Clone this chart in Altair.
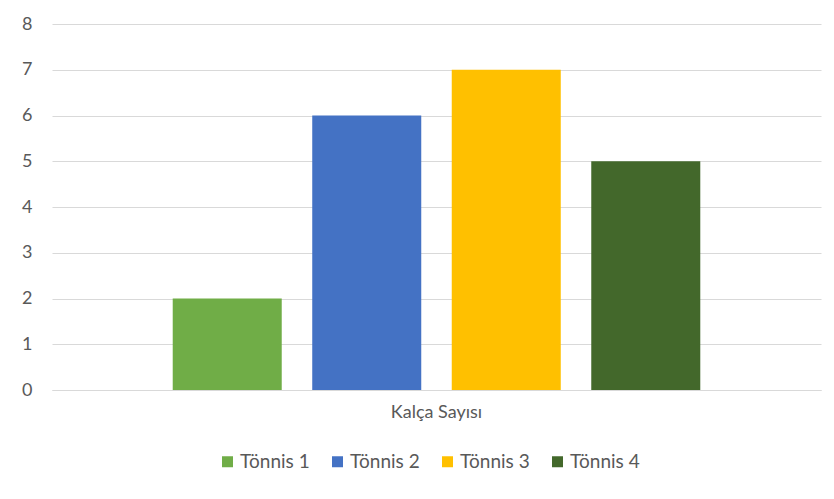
import altair as alt
import pandas as pd

category = ["Kalça Sayısı"]
series = ["Tönnis 1", "Tönnis 2", "Tönnis 3", "Tönnis 4"]
values = [2, 6, 7, 5]
colors = ["#70AD47", "#4472C4", "#FFC000", "#43682B"]
y_ticks = [0, 1, 2, 3, 4, 5, 6, 7, 8]

df = pd.DataFrame({
    "category": category * len(series),
    "series": series,
    "value": values,
})

FONT = "Lato"
TXT = "#595959"
GRID = "#D9D9D9"

chart = alt.Chart(df).mark_bar().encode(
    x=alt.X(
        "category:N",
        title=None,
        scale=alt.Scale(paddingInner=0, paddingOuter=0.189),
        axis=alt.Axis(labelAngle=0, ticks=False, domainColor=GRID, labelPadding=13,
                      labelFontSize=18, labelColor=TXT, labelFont=FONT),
    ),
    xOffset=alt.XOffset(
        "series:N", sort=series,
        scale=alt.Scale(paddingInner=0.2186, paddingOuter=0.1093),
    ),
    y=alt.Y(
        "value:Q",
        title=None,
        scale=alt.Scale(domain=[0, 8], nice=False),
        axis=alt.Axis(values=y_ticks, ticks=False, domain=False, gridColor=GRID,
                      labelPadding=20, labelFontSize=18, labelColor=TXT, labelFont=FONT),
    ),
    color=alt.Color(
        "series:N", sort=series,
        scale=alt.Scale(domain=series, range=colors),
        legend=alt.Legend(orient="none", direction="horizontal", legendX=166, legendY=428,
                          title=None, symbolType="square", symbolSize=121, symbolStrokeWidth=0,
                          labelFontSize=19, labelColor=TXT, labelFont=FONT, columnPadding=18,
                          labelOffset=3),
    ),
).properties(
    width=769, height=366,
    autosize="none",
    padding={"left": 44, "top": 16, "right": 5, "bottom": 110},
).configure_view(stroke=None)

chart.save("out.html", embed_options={"renderer": "svg", "actions": False})
